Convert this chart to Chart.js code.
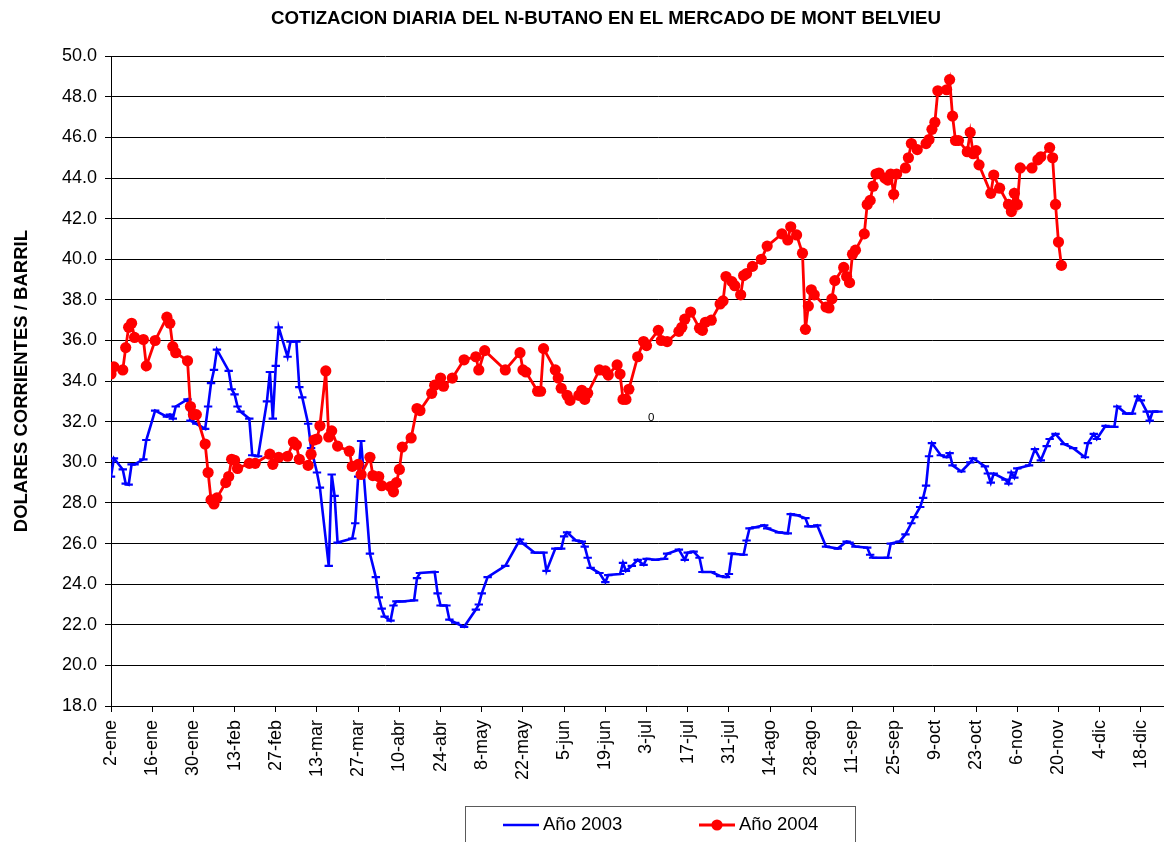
<!DOCTYPE html>
<html lang="es">
<head>
<meta charset="utf-8">
<title>Cotización diaria del n-butano – Mont Belvieu</title>
<script src="https://cdn.jsdelivr.net/npm/chart.js@4.4.1/dist/chart.umd.min.js"></script>
<style>
  html, body { margin: 0; padding: 0; background: #fff; overflow: hidden; }
  #marco { position: relative; width: 1212px; height: 842px; }
  canvas { display: block; }
</style>
</head>
<body>
<div id="marco"><canvas id="grafico" width="1212" height="842"></canvas></div>
<script>
// ---- Datos -----------------------------------------------------------
// Día del año (1 = 1-ene) y cotización en US$/barril.

const TITULO = 'COTIZACION DIARIA DEL N-BUTANO EN EL MERCADO DE MONT BELVIEU';
const TITULO_Y = 'DOLARES CORRIENTES / BARRIL';

// Marcas del eje X (cada 14 días) y su texto
const diasEtiquetas = [2, 16, 30, 44, 58, 72, 86, 100, 114, 128, 142, 156, 170,
                       184, 198, 212, 226, 240, 254, 268, 282, 296, 310, 324, 338, 352];
const etiquetasX = ['2-ene', '16-ene', '30-ene', '13-feb', '27-feb', '13-mar', '27-mar',
                    '10-abr', '24-abr', '8-may', '22-may', '5-jun', '19-jun', '3-jul',
                    '17-jul', '31-jul', '14-ago', '28-ago', '11-sep', '25-sep', '9-oct',
                    '23-oct', '6-nov', '20-nov', '4-dic', '18-dic'];

// Año 2003
const dias2003 = [
  2, 3, 6, 7, 8, 9, 10, 13, 14, 17,
  21, 22, 23, 24, 28, 29, 31, 34, 35, 36,
  37, 38, 42, 43, 44, 45, 46, 49, 50, 52,
  55, 56, 57, 58, 59, 62, 63, 65, 66, 67,
  69, 70, 72, 73, 76, 77, 78, 79, 84, 85,
  86, 87, 90, 92, 93, 94, 95, 97, 98, 99,
  101, 105, 106, 107, 112, 113, 114, 116, 117, 119,
  122, 126, 127, 128, 130, 136, 141, 142, 146, 149,
  150, 153, 155, 156, 157, 160, 162, 163, 164, 165,
  168, 170, 171, 175, 176, 177, 179, 181, 183, 184,
  187, 190, 191, 195, 197, 198, 200, 202, 203, 206,
  209, 211, 212, 213, 217, 218, 219, 221, 224, 225,
  229, 232, 233, 235, 238, 239, 241, 242, 245, 249,
  252, 253, 255, 259, 260, 261, 266, 267, 270, 272,
  274, 275, 277, 278, 279, 280, 281, 284, 286, 287,
  288, 291, 294, 295, 299, 300, 301, 302, 306, 307,
  308, 309, 310, 314, 316, 318, 320, 321, 323, 326,
  329, 333, 334, 336, 337, 340, 341, 343, 344, 347,
  349, 351, 352, 354, 355, 356, 358
];
const precios2003 = [
  29.30, 30.20, 29.65, 28.95, 28.90, 29.90, 29.90, 30.15, 31.10, 32.55,
  32.25, 32.35, 32.15, 32.75, 33.10, 32.05, 31.90, 31.65, 32.75, 33.90,
  34.55, 35.55, 34.50, 33.60, 33.35, 32.75, 32.50, 32.15, 30.35, 30.30,
  33.00, 34.45, 32.15, 34.75, 36.65, 35.20, 35.95, 35.95, 33.70, 33.20,
  31.90, 30.70, 29.50, 28.75, 24.90, 29.40, 28.35, 26.05, 26.25, 27.00,
  29.30, 31.05, 25.50, 24.35, 23.35, 22.80, 22.40, 22.20, 22.95, 23.15,
  23.15, 23.20, 24.30, 24.55, 24.60, 23.55, 22.95, 22.95, 22.25, 22.10,
  21.90, 22.75, 23.00, 23.55, 24.35, 24.90, 26.20, 26.00, 25.55, 25.55,
  24.65, 25.75, 25.75, 26.35, 26.55, 26.15, 26.10, 25.85, 25.30, 24.80,
  24.55, 24.10, 24.45, 24.50, 25.05, 24.65, 24.90, 25.20, 24.95, 25.25,
  25.20, 25.25, 25.50, 25.70, 25.20, 25.55, 25.60, 25.30, 24.60, 24.60,
  24.40, 24.35, 24.50, 25.50, 25.45, 26.15, 26.75, 26.80, 26.90, 26.75,
  26.55, 26.50, 27.45, 27.40, 27.25, 26.85, 26.85, 26.90, 25.85, 25.75,
  26.10, 26.05, 25.85, 25.80, 25.45, 25.30, 25.30, 26.00, 26.10, 26.45,
  27.00, 27.30, 27.80, 28.25, 28.85, 30.30, 30.95, 30.35, 30.25, 30.45,
  29.85, 29.55, 30.00, 30.20, 29.80, 29.45, 29.00, 29.45, 29.15, 28.95,
  29.50, 29.25, 29.70, 29.85, 30.65, 30.10, 30.80, 31.15, 31.40, 30.90,
  30.70, 30.25, 30.95, 31.40, 31.15, 31.80, 31.75, 31.75, 32.75, 32.40,
  32.40, 33.25, 33.05, 32.50, 32.05, 32.50, 32.50
];

// Año 2004
const dias2004 = [
  2, 3, 6, 7, 8, 9, 10, 13, 14, 17,
  21, 22, 23, 24, 28, 29, 30, 31, 34, 35,
  36, 37, 38, 41, 42, 43, 44, 45, 49, 51,
  56, 57, 59, 62, 64, 65, 66, 69, 70, 71,
  72, 73, 75, 76, 77, 79, 83, 84, 86, 87,
  90, 91, 93, 94, 97, 98, 99, 100, 101, 104,
  106, 107, 111, 112, 114, 115, 118, 122, 126, 127,
  129, 136, 141, 142, 143, 147, 148, 149, 153, 154,
  155, 157, 158, 161, 162, 163, 164, 168, 170, 171,
  174, 175, 176, 177, 178, 181, 183, 184, 188, 189,
  191, 195, 196, 197, 199, 202, 203, 204, 206, 209,
  210, 211, 213, 214, 216, 217, 218, 220, 223, 225,
  230, 232, 233, 235, 237, 238, 239, 240, 241, 245,
  246, 247, 248, 251, 252, 253, 254, 255, 258, 259,
  260, 261, 262, 263, 265, 266, 267, 268, 269, 272,
  273, 274, 276, 279, 280, 281, 282, 283, 286, 287,
  288, 289, 290, 293, 294, 295, 296, 297, 301, 302,
  304, 307, 308, 309, 310, 311, 315, 317, 318, 321,
  322, 323, 324, 325
];
const precios2004 = [
  34.35, 34.70, 34.55, 35.65, 36.65, 36.85, 36.15, 36.05, 34.75, 36.00,
  37.15, 36.85, 35.70, 35.40, 35.00, 32.75, 32.35, 32.35, 30.90, 29.50,
  28.15, 27.95, 28.25, 29.00, 29.30, 30.15, 30.10, 29.70, 29.95, 29.95,
  30.40, 29.90, 30.25, 30.30, 31.00, 30.85, 30.15, 29.85, 30.40, 31.10,
  31.15, 31.80, 34.50, 31.25, 31.55, 30.80, 30.55, 29.80, 29.90, 29.40,
  30.25, 29.35, 29.30, 28.85, 28.80, 28.55, 29.00, 29.65, 30.75, 31.20,
  32.65, 32.55, 33.40, 33.80, 34.15, 33.75, 34.15, 35.05, 35.20, 34.55,
  35.50, 34.55, 35.40, 34.55, 34.45, 33.50, 33.50, 35.60, 34.55, 34.15,
  33.65, 33.30, 33.05, 33.30, 33.55, 33.10, 33.40, 34.55, 34.50, 34.30,
  34.80, 34.35, 33.10, 33.10, 33.60, 35.20, 35.95, 35.75, 36.50, 36.00,
  35.95, 36.45, 36.65, 37.05, 37.40, 36.60, 36.50, 36.90, 37.00, 37.80,
  37.95, 39.15, 38.90, 38.70, 38.25, 39.20, 39.30, 39.65, 40.00, 40.65,
  41.25, 40.95, 41.60, 41.20, 40.30, 36.55, 37.70, 38.50, 38.25, 37.65,
  37.60, 38.05, 38.95, 39.60, 39.15, 38.85, 40.25, 40.45, 41.25, 42.70,
  42.90, 43.60, 44.20, 44.25, 44.00, 43.90, 44.20, 43.20, 44.20, 44.50,
  45.00, 45.70, 45.40, 45.70, 45.90, 46.40, 46.75, 48.30, 48.35, 48.85,
  47.05, 45.85, 45.85, 45.30, 46.25, 45.20, 45.35, 44.65, 43.25, 44.15,
  43.50, 42.70, 42.35, 43.25, 42.70, 44.50, 44.50, 44.90, 45.05, 45.50,
  45.00, 42.70, 40.85, 39.70
];

// Rótulo suelto que aparece junto a la serie 2004 a comienzos de julio
const rotuloSuelto = { dia: 185.6, valor: 32.2, texto: '0' };

// ---- Gráfico ---------------------------------------------------------
const FUENTE = "'Liberation Sans', Arial, Helvetica, sans-serif";
Chart.defaults.font.family = FUENTE;
Chart.defaults.color = '#000';

const puntos = (dias, precios) => dias.map((d, i) => ({ x: d, y: precios[i] }));

// Leyenda en recuadro bajo el eje X, más el rótulo suelto
const extras = {
  id: 'extras',
  afterDraw(chart) {
    const ctx = chart.ctx;
    const { x: ejeX, y: ejeY } = chart.scales;
    ctx.save();

    // rótulo suelto
    ctx.font = '11.5px ' + FUENTE;
    ctx.fillStyle = '#000';
    ctx.textAlign = 'center';
    ctx.textBaseline = 'middle';
    ctx.fillText(rotuloSuelto.texto,
                 ejeX.getPixelForValue(rotuloSuelto.dia),
                 ejeY.getPixelForValue(rotuloSuelto.valor));

    // recuadro de la leyenda
    ctx.strokeStyle = '#5a5a5a';
    ctx.lineWidth = 1;
    ctx.strokeRect(465.5, 806.5, 390, 70);

    const inicios = [503, 699];
    const yLeyenda = 825;
    chart.data.datasets.forEach((ds, i) => {
      const x0 = inicios[i];
      ctx.strokeStyle = ds.borderColor;
      ctx.lineWidth = ds.borderWidth;
      ctx.beginPath();
      ctx.moveTo(x0, yLeyenda);
      ctx.lineTo(x0 + 36, yLeyenda);
      ctx.stroke();
      if (ds.pointStyle === 'circle') {
        ctx.fillStyle = ds.pointBackgroundColor;
        ctx.beginPath();
        ctx.arc(x0 + 18, yLeyenda, ds.pointRadius, 0, Math.PI * 2);
        ctx.fill();
      }
      ctx.font = '18.5px ' + FUENTE;
      ctx.fillStyle = '#000';
      ctx.textAlign = 'left';
      ctx.textBaseline = 'middle';
      ctx.fillText(ds.label, x0 + 40, yLeyenda);
    });
    ctx.restore();
  }
};

new Chart(document.getElementById('grafico'), {
  type: 'line',
  data: {
    datasets: [
      {
        label: 'Año 2003',
        data: puntos(dias2003, precios2003),
        borderColor: '#0000FF',
        backgroundColor: '#0000FF',
        borderWidth: 2.6,
        pointStyle: 'line',
        pointRadius: 4.2,
        pointBorderWidth: 2.2,
        pointBorderColor: '#0000FF',
        pointBackgroundColor: '#0000FF',
        tension: 0,
        order: 1
      },
      {
        label: 'Año 2004',
        data: puntos(dias2004, precios2004),
        borderColor: '#FF0000',
        backgroundColor: '#FF0000',
        borderWidth: 2.8,
        pointStyle: 'circle',
        pointRadius: 5.6,
        pointBorderWidth: 0,
        pointBorderColor: '#FF0000',
        pointBackgroundColor: '#FF0000',
        tension: 0,
        order: 0
      }
    ]
  },
  options: {
    responsive: false,
    animation: false,
    events: [],
    layout: { padding: { left: 0, right: 0, top: 0, bottom: 0 } },
    plugins: {
      legend: { display: false },
      tooltip: { enabled: false },
      title: {
        display: true,
        text: TITULO,
        color: '#000',
        font: { size: 18.7, weight: 'bold' },
        padding: { top: 7.5, bottom: 26.3 }
      }
    },
    scales: {
      x: {
        type: 'linear',
        min: 2,
        max: 374,
        afterBuildTicks: (s) => { s.ticks = diasEtiquetas.map(v => ({ value: v })); },
        afterFit: (s) => { s.height = 136; },
        ticks: {
          autoSkip: false,
          minRotation: 90,
          maxRotation: 90,
          padding: 8,
          color: '#000',
          font: { size: 18 },
          callback: (v) => etiquetasX[diasEtiquetas.indexOf(v)] ?? ''
        },
        grid: { drawOnChartArea: false, drawTicks: true, tickLength: 6, color: '#000', lineWidth: 1 },
        border: { color: '#000', width: 1 }
      },
      y: {
        min: 18,
        max: 50,
        afterFit: (s) => { s.width = 111; },
        ticks: {
          stepSize: 2,
          padding: 8,
          color: '#000',
          font: { size: 18 },
          callback: (v) => Number(v).toFixed(1)
        },
        grid: { color: '#000', lineWidth: 1, drawTicks: true, tickLength: 6 },
        border: { color: '#000', width: 1 },
        title: {
          display: true,
          text: TITULO_Y,
          color: '#000',
          font: { size: 18.5, weight: 'bold' },
          padding: { top: 11, bottom: 0 }
        }
      }
    }
  },
  plugins: [extras]
});
</script>
</body>
</html>
